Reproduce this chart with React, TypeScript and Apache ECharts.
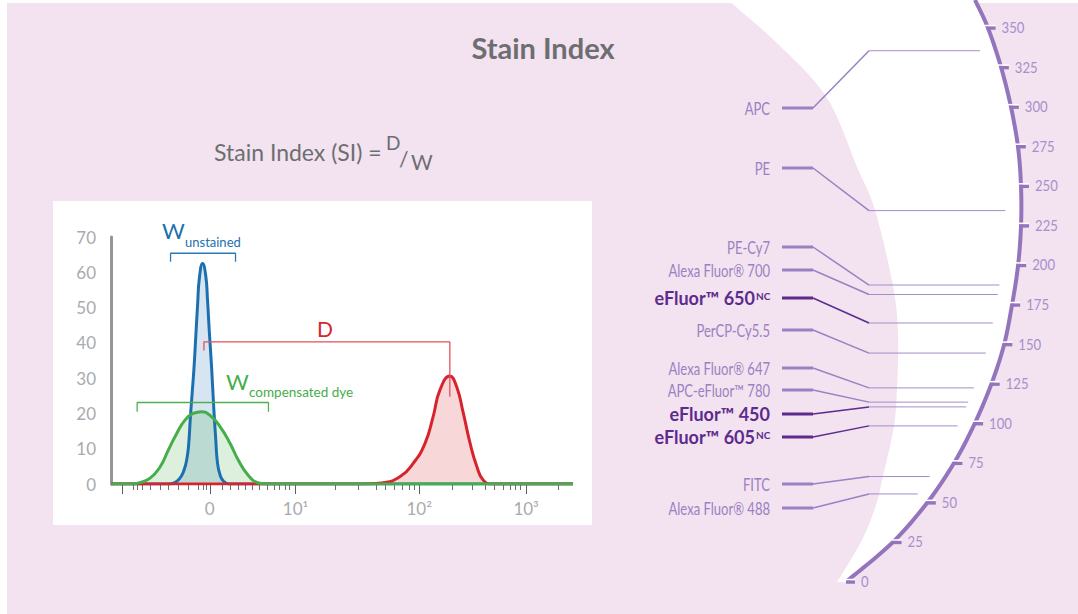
import React, { useEffect, useRef } from "react";
import * as echarts from "echarts";

// ---------- Histogram data (x = display channel 0..1024, y = events) ----------
const BLUE_UNSTAINED = [
  [0, 0], [128, 0], [140, 0.3], [152, 1.5], [162, 4], [168, 7], [172, 11], [176, 19], [180, 26],
  [184, 33], [188, 42], [192, 51], [196, 58.5], [203, 62.5], [210, 59], [214, 52], [218, 43],
  [223, 33], [228, 21], [232, 13], [236, 6], [242, 2.5], [250, 0.7], [262, 0], [1024, 0],
];
const RED_STAINED = [
  [0, 0], [560, 0], [600, 0.3], [641, 2.1], [670, 5.9], [696, 11.5], [714, 19.1], [729, 26.6],
  [751, 30.6], [766, 27.6], [781, 20], [796, 11.5], [811, 4.9], [825, 1.1], [844, 0], [1024, 0],
];
const GREEN_COMPENSATED = [
  [0, 0], [50, 0], [61, 0.3], [86, 1.6], [109, 4.9], [127, 9.6], [146, 14.4], [164, 18.1],
  [182, 20], [201, 20.5], [219, 19.5], [242, 16.2], [264, 11.5], [282, 6.8], [304, 2.5],
  [327, 0.3], [345, 0], [1024, 0],
];
const W_UNSTAINED_BRACKET = [[132, 63], [132, 65.4], [276, 65.4], [276, 63]];
const D_BRACKET = [[206, 37.8], [206, 40.3], [751, 40.3], [751, 24.7]];
const W_COMP_BRACKET = [[58, 20.5], [58, 23.1], [349, 23.1], [349, 20.5]];

const Y_MAX = 70;
const Y_STEP = 10;
const X_MAJOR_TICKS = [26, 219, 409, 683, 920];
const X_MINOR_TICKS = [
  49, 58, 69, 86, 109, 126, 149, 171, 193, 204, 211, 246, 264, 281, 297, 313, 328, 346, 361,
  372, 386, 395, 496, 547, 587, 608, 628, 646, 661, 672, 757, 800, 829, 850, 870, 886, 897, 908, 991,
];
const X_LABEL_VALUES = [219, 409, 683, 920];
const X_LABEL_TEXT = ["0", "10¹", "10²", "10³"];

// ---------- Stain index scale ----------
const SCALE_VALUES = [0, 25, 50, 75, 100, 125, 150, 175, 200, 225, 250, 275, 300, 325, 350];
const DYE_NAMES = [
  "APC", "PE", "PE-Cy7", "Alexa Fluor® 700", "eFluor™ 650", "PerCP-Cy5.5", "Alexa Fluor® 647",
  "APC-eFluor™ 780", "eFluor™ 450", "eFluor™ 605", "FITC", "Alexa Fluor® 488",
];
const DYE_SUP = ["", "", "", "", "NC", "", "", "", "", "NC", "", ""];
const DYE_STAIN_INDEX = [335, 234, 187, 181, 163, 144, 122, 113, 110, 98, 66, 55];
const DYE_HIGHLIGHT = [false, false, false, false, true, false, false, false, true, true, false, false];

// ---------- Layout (pixels) ----------
const LABEL_Y = [108, 168, 247, 270, 298, 330, 368, 390, 414, 437, 484, 508];
const ARC_GUIDE = [
  [975, 0], [988, 28], [1001, 67], [1011, 107], [1018, 147], [1021, 186], [1021, 226], [1018, 266],
  [1012, 305], [1004, 345], [991, 385], [974, 425], [954, 463], [927, 503], [892, 543], [847, 581],
];
const CRESCENT_LEFT = [
  [728, 0], [779, 45], [827, 98], [857, 167], [875, 210], [893, 286], [898, 335], [897, 387],
  [894, 426], [883, 476], [876, 505], [862, 540], [837, 582],
];

const FONT_MAIN = "Lato, 'Open Sans', sans-serif";
const PINK = "#f3e2ef";
const PURPLE_LIGHT = "#9a81c3";
const PURPLE_LINE = "#a58ccb";
const PURPLE_DARK = "#5b2b8e";
const ARC_COLOR = "#9475bd";
const GRAY_TEXT = "#6d6e71";
const AXIS_TEXT = "#a9abae";
const NARROW = 0.79;

function catmull(pts: number[][], seg = 10): number[][] {
  const out: number[][] = [];
  const n = pts.length;
  for (let i = 0; i < n - 1; i++) {
    const p0 = pts[Math.max(i - 1, 0)], p1 = pts[i], p2 = pts[i + 1], p3 = pts[Math.min(i + 2, n - 1)];
    for (let s = 0; s < seg; s++) {
      const t = s / seg, t2 = t * t, t3 = t2 * t;
      const f = (a: number, b: number, c: number, d: number) =>
        0.5 * (2 * b + (-a + c) * t + (2 * a - 5 * b + 4 * c - d) * t2 + (-a + 3 * b - 3 * c + d) * t3);
      out.push([f(p0[0], p1[0], p2[0], p3[0]), f(p0[1], p1[1], p2[1], p3[1])]);
    }
  }
  out.push(pts[n - 1]);
  return out;
}

const ARC_DENSE = catmull(ARC_GUIDE);
const LEFT_DENSE = catmull(CRESCENT_LEFT);

function arcX(y: number): number {
  if (y <= ARC_DENSE[0][1]) return ARC_DENSE[0][0];
  for (let i = 0; i < ARC_DENSE.length - 1; i++) {
    const a = ARC_DENSE[i], b = ARC_DENSE[i + 1];
    if (y >= a[1] && y <= b[1]) {
      const t = b[1] === a[1] ? 0 : (y - a[1]) / (b[1] - a[1]);
      return a[0] + (b[0] - a[0]) * t;
    }
  }
  return ARC_DENSE[ARC_DENSE.length - 1][0];
}

export default function App() {
  const ref = useRef<HTMLDivElement>(null);
  useEffect(() => {
    if (!ref.current) return;
    const chart = echarts.init(ref.current, null, { renderer: "svg" });

    const crescent = [...LEFT_DENSE, [856, 583], ...ARC_DENSE.slice().reverse()];

    const histLine = (name: string, data: number[][], color: string) => ({
      name,
      type: "line",
      xAxisIndex: 0,
      yAxisIndex: 0,
      data,
      symbol: "none",
      smooth: 0.5,
      lineStyle: { color, width: 3 },
      areaStyle: { color, opacity: 0.18 },
      silent: true,
    });
    const bracket = (name: string, data: number[][], color: string) => ({
      name,
      type: "line",
      xAxisIndex: 0,
      yAxisIndex: 0,
      data,
      symbol: "none",
      lineStyle: { color, width: 1.3 },
      silent: true,
      z: 4,
    });
    const txt = (text: string, x: number, y: number, size: number, fill: string, extra: any = {}) => ({
      type: "text", z: 10,
      style: { text, x, y, align: "left", verticalAlign: "middle", fontFamily: FONT_MAIN, fontSize: size, fill, ...extra },
    });

    const option: any = {
      animation: false,
      backgroundColor: "#ffffff",
      grid: [
        { left: 111, right: 505, top: 237, bottom: 130 },
        { left: 0, right: 0, top: 27, bottom: 33 },
      ],
      xAxis: [
        {
          type: "value", gridIndex: 0, min: 0, max: 1024, position: "bottom",
          axisLine: { show: false },
          splitLine: { show: false },
          axisTick: { show: true, customValues: X_MAJOR_TICKS, length: 10, lineStyle: { color: "#5e5e5e", width: 1 } },
          axisLabel: {
            customValues: X_LABEL_VALUES,
            formatter: (v: number) => X_LABEL_TEXT[X_LABEL_VALUES.indexOf(v)] ?? "",
            color: AXIS_TEXT, fontSize: 17, margin: 16, fontFamily: FONT_MAIN,
          },
        },
        {
          type: "value", gridIndex: 0, min: 0, max: 1024, position: "bottom", offset: 0,
          axisLine: { show: false },
          splitLine: { show: false },
          axisTick: { show: true, customValues: X_MINOR_TICKS, length: 6, lineStyle: { color: "#6e6e6e", width: 1 } },
          axisLabel: { show: false },
        },
        { type: "value", gridIndex: 1, min: 0, max: 1, show: false },
      ],
      yAxis: [
        {
          type: "value", gridIndex: 0, min: 0, max: Y_MAX, interval: Y_STEP,
          axisLine: { show: true, lineStyle: { color: "#939598", width: 3 } },
          axisTick: { show: false },
          splitLine: { show: false },
          axisLabel: { color: AXIS_TEXT, fontSize: 17, margin: 15, fontFamily: FONT_MAIN },
        },
        { type: "value", gridIndex: 1, min: 0, max: 350, show: false },
      ],
      graphic: [
        { type: "rect", z: -10, shape: { x: 7, y: 3, width: 1071, height: 611 }, style: { fill: PINK } },
        { type: "polygon", z: -9, shape: { points: crescent }, style: { fill: "#ffffff" } },
        { type: "rect", z: -8, shape: { x: 53, y: 201, width: 539, height: 324 }, style: { fill: "#ffffff" } },
        { type: "polyline", z: 1, shape: { points: ARC_DENSE }, style: { stroke: ARC_COLOR, lineWidth: 4, fill: null } },
        txt("Stain Index", 543, 47, 29, GRAY_TEXT, { align: "center", fontWeight: "bold" }),
        txt("Stain Index (SI) = ", 214, 152, 23, GRAY_TEXT),
        txt("D", 386, 142, 19, GRAY_TEXT),
        txt("/", 399, 158, 21, GRAY_TEXT),
        txt("W", 411, 161, 21, GRAY_TEXT),
        txt("W", 162, 230, 22, "#1c70b0"),
        txt("unstained", 185, 242, 13, "#1c70b0"),
        txt("D", 317, 328, 21, "#d7242c"),
        txt("W", 226, 381, 22, "#45ad4a"),
        txt("compensated dye", 249, 392, 13.5, "#45ad4a"),
      ],
      series: [
        histLine("Unstained", BLUE_UNSTAINED, "#1c70b0"),
        histLine("Stained", RED_STAINED, "#d7242c"),
        histLine("Compensated dye", GREEN_COMPENSATED, "#45ad4a"),
        bracket("W unstained", W_UNSTAINED_BRACKET, "#2a78b5"),
        bracket("D", D_BRACKET, "#e2505a"),
        bracket("W compensated", W_COMP_BRACKET, "#4cb150"),
        {
          name: "Scale",
          type: "custom",
          coordinateSystem: "cartesian2d",
          xAxisIndex: 2,
          yAxisIndex: 1,
          silent: true,
          data: SCALE_VALUES.map((v) => [0, v]),
          encode: { x: 0, y: 1 },
          renderItem: (params: any, api: any) => {
            const v = api.value(1);
            const y = api.coord([0, v])[1];
            const x = arcX(y);
            return {
              type: "group",
              children: [
                { type: "line", shape: { x1: x - 1, y1: y + 1, x2: x + 8, y2: y + 1 }, style: { stroke: ARC_COLOR, lineWidth: 3.5 } },
                { type: "line", shape: { x1: x - 3, y1: y - 1.5, x2: x + 8, y2: y - 1.5 }, style: { stroke: "#ffffff", lineWidth: 1.5 } },
                {
                  type: "text", x: x + 14, y, scaleX: 0.82,
                  style: { text: String(v), x: 0, y: 0, align: "left", verticalAlign: "middle", fontFamily: FONT_MAIN, fontSize: 16, fill: "#a790cc" },
                },
              ],
            };
          },
        },
        {
          name: "Dyes",
          type: "custom",
          coordinateSystem: "cartesian2d",
          xAxisIndex: 2,
          yAxisIndex: 1,
          silent: true,
          data: DYE_STAIN_INDEX.map((v) => [0, v]),
          encode: { x: 0, y: 1 },
          renderItem: (params: any, api: any) => {
            const i = params.dataIndex;
            const v = api.value(1);
            const vy = api.coord([0, v])[1];
            const ly = LABEL_Y[i];
            const hl = DYE_HIGHLIGHT[i];
            const sup = DYE_SUP[i];
            const col = hl ? PURPLE_DARK : PURPLE_LIGHT;
            const children: any[] = [
              {
                type: "text", x: sup ? 755 : 770, y: ly, scaleX: hl ? 1 : NARROW,
                style: {
                  text: DYE_NAMES[i], x: 0, y: 0, align: "right", verticalAlign: "middle",
                  fontFamily: FONT_MAIN, fontWeight: hl ? "bold" : "normal",
                  fontSize: hl ? 18 : 16.5, fill: col,
                },
              },
              { type: "line", shape: { x1: 782, y1: ly, x2: 813, y2: ly }, style: { stroke: col, lineWidth: 3 } },
              { type: "line", shape: { x1: 813, y1: ly, x2: 869, y2: vy }, style: { stroke: col, lineWidth: 1.5 } },
              { type: "line", shape: { x1: 869, y1: vy, x2: arcX(vy) - 16, y2: vy }, style: { stroke: PURPLE_LINE, lineWidth: 1 } },
            ];
            if (sup) {
              children.push({
                type: "text",
                style: { text: sup, x: 756, y: ly - 7, align: "left", verticalAlign: "top", fontFamily: FONT_MAIN, fontWeight: "bold", fontSize: 10, fill: col },
              });
            }
            return { type: "group", children };
          },
        },
      ],
    };
    chart.setOption(option);
    return () => chart.dispose();
  }, []);
  return <div ref={ref} style={{ position: "fixed", left: 0, top: 0, width: 1078, height: 614 }} />;
}
